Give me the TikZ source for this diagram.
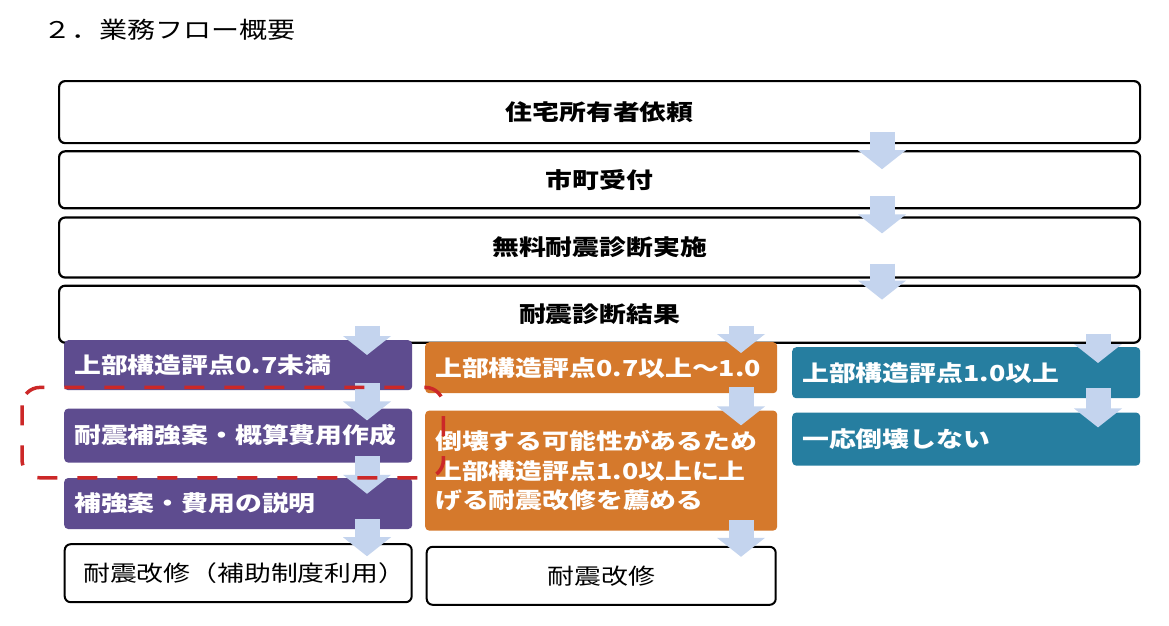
\documentclass[tikz,border=0pt]{standalone}
\usepackage{fontspec}
\newfontfamily\jp[FakeStretch=1.22]{Noto Sans CJK JP}
\usetikzlibrary{arrows.meta,positioning}
\definecolor{purplebg}{RGB}{94,76,143}
\definecolor{orangebg}{RGB}{213,121,44}
\definecolor{tealbg}{RGB}{38,126,160}
\definecolor{arrowbg}{RGB}{196,212,238}
\definecolor{markred}{RGB}{204,40,40}

\begin{document}
\begin{tikzpicture}[
      x=1pt,y=-1pt,
      font=\fontsize{22}{29.5}\jp,
      stage/.style = {draw,line width=2.2pt,rounded corners=6pt,minimum width=1081pt,inner sep=0,font=\fontsize{22}{29.5}\jp\bfseries},
      endbox/.style = {draw,line width=2pt,rounded corners=6pt,inner sep=0,minimum height=58pt},
      colbox/.style = {rounded corners=4pt,text=white,align=left,inner xsep=10pt,inner ysep=0,anchor=north west,font=\fontsize{22}{29.5}\jp\bfseries},
      lowbox/.style = {colbox,fill=purplebg,minimum width=348pt,text width=328pt},
      midbox/.style = {colbox,fill=orangebg,minimum width=352pt,text width=332pt},
      highbox/.style = {colbox,fill=tealbg,minimum width=348pt,text width=328pt},
      flow/.style = {arrowbg,line width=25pt,-{Triangle[length=19pt,width=47pt]}},
      markbox/.style = {markred,line width=3.5pt,rounded corners=18pt,dash pattern=on 20pt off 20pt}
      ]
      \useasboundingbox (0,0) rectangle (1169,625);
      \fill[white] (0,0) rectangle (1169,625);

      \node (title)[anchor=west,inner sep=0,font=\fontsize{23}{28}\jp] at (43,30) {２．業務フロー概要};

      \node (req)[stage,minimum height=62pt,anchor=north west] at (58,80) {住宅所有者依頼};
      \node (acc)[stage,minimum height=57pt,below = 6pt of req] {市町受付};
      \node (diag)[stage,minimum height=60pt,below = 7pt of acc] {無料耐震診断実施};
      \node (res)[stage,minimum height=57pt,below = 6pt of diag] {耐震診断結果};

      \node (low1)[lowbox,minimum height=50pt] at (64,340) {上部構造評点0.7未満};
      \node (low2)[lowbox,minimum height=54pt,below = 18pt of low1] {耐震補強案・概算費用作成};
      \node (low3)[lowbox,minimum height=51pt,below = 15pt of low2] {補強案・費用の説明};
      \node (fixa)[endbox,minimum width=347pt,below = 14pt of low3] {\hspace{12pt}耐震改修（補助制度利用）};

      \node (mid1)[midbox,minimum height=51pt] at (425,342) {上部構造評点0.7以上～1.0};
      \node (mid2)[midbox,minimum height=120pt,below = 17pt of mid1] {倒壊する可能性があるため\\上部構造評点1.0以上に上\\げる耐震改修を薦める\\[-14pt]};
      \node (fixb)[endbox,minimum width=349pt,below = 15pt of mid2] {耐震改修};

      \node (high1)[highbox,minimum height=51pt] at (792,347) {上部構造評点1.0以上};
      \node (high2)[highbox,minimum height=53pt,below = 14pt of high1] {一応倒壊しない};

      \coordinate (colT) at (882,0);
      \coordinate (colA) at (367,0);
      \coordinate (colB) at (741,0);
      \coordinate (colC) at (1098,0);

      \draw[flow] ([yshift=12pt]req.south -| colT) -- ([yshift=-19pt]acc.north -| colT);
      \draw[flow] ([yshift=13pt]acc.south -| colT) -- ([yshift=-17pt]diag.north -| colT);
      \draw[flow] ([yshift=15pt]diag.south -| colT) -- ([yshift=-15pt]res.north -| colT);

      \draw[flow] ([yshift=18pt]res.south -| colA) -- ([yshift=-15pt]low1.north -| colA);
      \draw[flow] ([yshift=7pt]low1.south -| colA) -- ([yshift=-12pt]low2.north -| colA);
      \draw[flow] ([yshift=7pt]low2.south -| colA) -- ([yshift=-16pt]low3.north -| colA);
      \draw[flow] ([yshift=10pt]low3.south -| colA) -- ([yshift=-13pt]fixa.north -| colA);

      \draw[flow] ([yshift=18pt]res.south -| colB) -- ([yshift=-11pt]mid1.north -| colB);
      \draw[flow] ([yshift=6pt]mid1.south -| colB) -- ([yshift=-15pt]mid2.north -| colB);
      \draw[flow] ([yshift=11pt]mid2.south -| colB) -- ([yshift=-11pt]fixb.north -| colB);

      \draw[flow] ([yshift=10pt]res.south -| colC) -- ([yshift=-16pt]high1.north -| colC);
      \draw[flow] ([yshift=10pt]high1.south -| colC) -- ([yshift=-15pt]high2.north -| colC);

      \draw[markbox] ([xshift=-42pt,yshift=21pt]low2.north west) rectangle ([xshift=31pt,yshift=-15pt]low2.south east);
    \end{tikzpicture}
\end{document}
